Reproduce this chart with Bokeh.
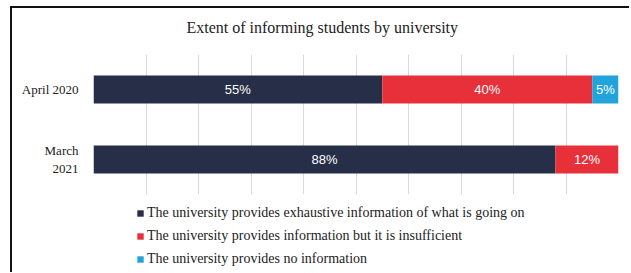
from bokeh.plotting import figure
from bokeh.layouts import column
from bokeh.models import ColumnDataSource, Legend, LegendItem, FixedTicker, Range1d, FactorRange, Title
from bokeh.core.properties import value
from bokeh.embed import file_html
from bokeh.resources import INLINE

categories = ["March\n2021", "April 2020"]
exhaustive = [88, 55]
insufficient = [12, 40]
no_info = [0, 5]
series_names = [
    "The university provides exhaustive information of what is going on",
    "The university provides information but it is insufficient",
    "The university provides no information",
]
colors = ["#262f47", "#e8303a", "#21a3dc"]
keys = ["exhaustive", "insufficient", "no_info"]

source = ColumnDataSource(dict(cat=categories, exhaustive=exhaustive,
                               insufficient=insufficient, no_info=no_info))

W = 617
p = figure(width=W, height=194, y_range=FactorRange(*categories),
           x_range=Range1d(0, 100), output_backend="svg", toolbar_location=None,
           min_border_left=81, min_border_right=11, min_border_top=46, min_border_bottom=8,
           title="Extent of informing students by university")

renderers = p.hbar_stack(keys, y="cat", height=0.4, color=colors, source=source, line_color=None)

# segment labels
lx, ly, lt = [], [], []
for i, c in enumerate(categories):
    vals = [exhaustive[i], insufficient[i], no_info[i]]
    start = 0
    for v in vals:
        if v > 0:
            lx.append(start + v / 2)
            ly.append(c)
            lt.append(f"{v}%")
        start += v
p.text(x=lx, y=ly, text=lt, text_color="white", text_align="center", text_baseline="middle",
       text_font=value("Liberation Sans"), text_font_size="13px")

p.title.text_font = "Liberation Serif"
p.title.text_font_size = "16px"
p.title.text_font_style = "normal"
p.title.text_color = "#222222"
p.title.align = "left"
p.title.offset = 93
p.title.standoff = 10
# empty spacer between title and plot area
p.add_layout(Title(text=" ", text_font_size="1px", standoff=11), "above")

p.xaxis.visible = False
p.xgrid.ticker = FixedTicker(ticks=list(range(0, 101, 10)))
p.xgrid.grid_line_color = "#d9d9d9"
p.ygrid.grid_line_color = None
p.outline_line_color = None

p.yaxis.axis_line_color = None
p.yaxis.major_tick_line_color = None
p.yaxis.minor_tick_line_color = None
p.yaxis.major_label_text_font = "Liberation Serif"
p.yaxis.major_label_text_font_size = "13px"
p.yaxis.major_label_text_color = "#222222"
p.yaxis.major_label_standoff = 9

# legend panel: second figure with hidden copies of the series as legend sources
p2 = figure(width=W, height=70, x_range=Range1d(0, 100), y_range=FactorRange(*categories),
            output_backend="svg", toolbar_location=None, min_border=0)
p2.axis.visible = False
p2.grid.visible = False
p2.outline_line_color = None
swatches = p2.hbar_stack(keys, y="cat", height=0.4, color=colors, source=source, line_color=None)
for r in swatches:
    r.visible = False
items = [LegendItem(label=n, renderers=[r]) for n, r in zip(series_names, swatches)]
legend = Legend(items=items, orientation="vertical", location=(43, 5),
                glyph_width=8, glyph_height=8, label_standoff=3, padding=0, margin=0,
                spacing=7, label_height=16, label_text_font="Liberation Serif",
                label_text_font_size="14px", label_text_color="#222222",
                border_line_color=None, background_fill_alpha=0,
                inactive_fill_alpha=0, click_policy="none")
p2.add_layout(legend, "center")

layout = column(p, p2, spacing=0)
layout.styles = {"border-top": "2px solid #111", "border-left": "2px solid #111",
                 "margin-left": "10px", "margin-top": "6px"}

open("out.html", "w").write(file_html(layout, INLINE))
